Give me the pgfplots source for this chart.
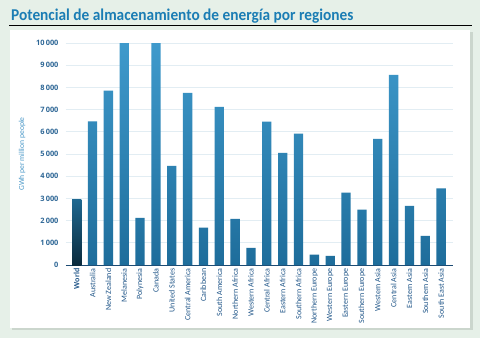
\documentclass[border=0pt]{standalone}
\usepackage{pgfplots}
\pgfplotsset{compat=1.18}
\usepackage{fontspec}
\setmainfont{Carlito}
\newfontfamily\tickfont{Open Sans}
\definecolor{bg}{HTML}{E6F0E8}
\definecolor{shadowc}{HTML}{CBD6CD}
\definecolor{titleblue}{HTML}{1B7DB4}
\definecolor{tickblue}{HTML}{2E6796}
\definecolor{labblue}{HTML}{23588A}
\definecolor{ylabblue}{HTML}{4A98C8}
\definecolor{axisblue}{HTML}{1C4B73}
\definecolor{gridc}{HTML}{E2EDF3}
\definecolor{bartop}{HTML}{3F9ACC}
\definecolor{barbot}{HTML}{1E6D9B}
\definecolor{wtop}{HTML}{1F6890}
\definecolor{wbot}{HTML}{0A2A3C}
\begin{document}
\begin{tikzpicture}[x=1pt,y=1pt]
\fill[bg] (0,0) rectangle (480,338);
\fill[shadowc] (12,8) rectangle (473,306);
\fill[white] (10,10) rectangle (470,308);
\draw[black, line width=0.9pt] (9,313) -- (472,313);
\node[anchor=base west, inner sep=0pt, text=titleblue] at (11,317.5)
  {\scalebox{0.93}[1]{\fontsize{16.5}{16.5}\selectfont\bfseries Potencial de almacenamiento de energía por regiones}};
\begin{axis}[
  at={(66pt,73pt)}, anchor=south west,
  scale only axis, width=386.7pt, height=222pt,
  xmin=-0.675, xmax=23.73, ymin=0, ymax=10000,
  ybar, bar width=9.3pt,
  separate axis lines,
  axis x line*=bottom, axis y line*=left,
  x axis line style={draw=axisblue, line width=1pt, -},
  y axis line style={draw=none},
  major tick length=0pt,
  ymajorgrids, grid style={draw=gridc, line width=0.7pt},
  ytick={0,1000,...,10000},
  scaled y ticks=false,
  /pgf/number format/assume math mode=true,
  /pgf/number format/1000 sep={\,},
  yticklabel style={font=\tickfont\fontsize{7.4}{8}\selectfont\bfseries, text=tickblue, xshift=-4pt},
  xtick={0,...,23},
  xticklabels={\textbf{World},Australia,New Zealand,Melanesia,Polynesia,Canada,United States,Central America,Caribbean,South America,Northern Africa,Western Africa,Central Africa,Eastern Africa,Southern Africa,Northern Europe,Western Europe,Eastern Europe,Southern Europe,Western Asia,Central Asia,Eastern Asia,Southern Asia,South East Asia},
  xticklabel style={rotate=90, anchor=east, font=\fontsize{8}{8}\selectfont, text=labblue, inner sep=1pt, xshift=-2.5pt},
  ylabel={GWh per million people},
  ylabel style={font=\fontsize{7.6}{8}\selectfont, text=ylabblue, anchor=south},
  every axis y label/.append style={at={(-37pt,111pt)}},
  clip=false,
]
\addplot[bar shift=0pt, draw=none, top color=wtop, bottom color=wbot] coordinates {(0,2940)};
\addplot[bar shift=0pt, draw=none, top color=bartop, bottom color=barbot] coordinates {
(1,6470) (2,7860) (3,10000) (4,2120) (5,10000) (6,4460) (7,7750) (8,1680) (9,7120)
(10,2080) (11,770) (12,6460) (13,5050) (14,5920) (15,470) (16,410) (17,3260)
(18,2500) (19,5680) (20,8560) (21,2660) (22,1310) (23,3450)};
\end{axis}
\end{tikzpicture}
\end{document}
